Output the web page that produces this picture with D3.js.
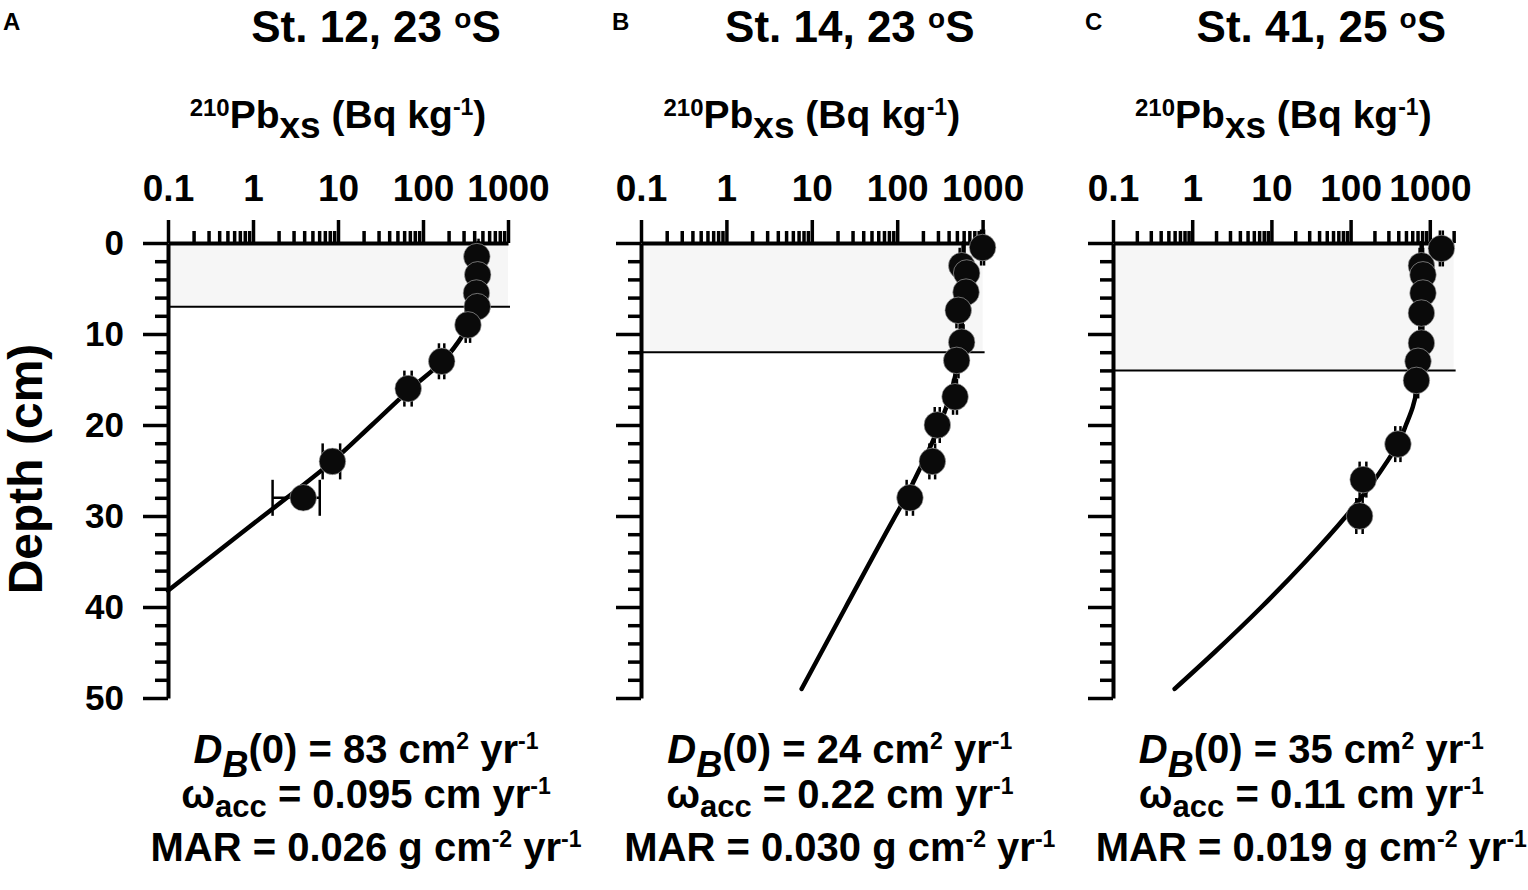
<!DOCTYPE html>
<html>
<head>
<meta charset="utf-8">
<script src="https://cdn.jsdelivr.net/npm/d3@7"></script>
<style>
  body { margin: 0; background: #fff; }
  svg { display: block; }
  text { font-family: "Liberation Sans", Arial, sans-serif; font-weight: bold; fill: #000; white-space: pre; }
</style>
</head>
<body>
<div id="chart"></div>
<script>
// Panel labels and text
var panelLetters = ["A", "B", "C"];
var stationNames = ["St. 12, 23 ", "St. 14, 23 ", "St. 41, 25 "];
var dbValues = ["83", "24", "35"];
var omegaValues = ["0.095", "0.22", "0.11"];
var marValues = ["0.026", "0.030", "0.019"];

// Axis ticks
var xTickValues = [0.1, 1, 10, 100, 1000];
var xTickLabels = ["0.1", "1", "10", "100", "1000"];
var xMaxValues = [1000, 1000, 2000];
var depthTickValues = [0, 10, 20, 30, 40, 50];
var depthTickLabels = ["0", "10", "20", "30", "40", "50"];

// Depth of the surface mixed layer (cm)
var mixedLayerDepth = [7, 12, 14];

// St. 12 measured 210Pbxs
var depthA = [1.5, 3.5, 5.5, 7, 9, 13, 16, 24, 28];
var pbA    = [430, 440, 425, 435, 338, 166, 67, 8.6, 3.9];
var errA   = [20, 20, 20, 20, 20, 12, 6.6, 2, 2.2];
// St. 12 model fit
var fitDepthA = [0, 3, 6, 8, 10, 13, 16, 20, 24, 28, 32, 38.2];
var fitPbA    = [450, 445, 430, 390, 300, 170, 72, 25, 8.6, 2.5, 0.7, 0.1];

// St. 14 measured 210Pbxs
var depthB = [0.5, 2.5, 3.3, 5.4, 7.4, 10.9, 12.9, 16.9, 20, 24, 28];
var pbB    = [1000, 569, 651, 640, 519, 569, 497, 476, 295, 258, 141];
var errB   = [40, 30, 30, 30, 25, 30, 25, 25, 20, 20, 12];
// St. 14 model fit
var fitDepthB = [0, 6, 10, 13, 16, 19, 22, 25, 28, 30.4, 40, 49];
var fitPbB    = [600, 585, 560, 515, 440, 345, 255, 180, 125, 90, 25, 7.6];

// St. 41 measured 210Pbxs
var depthC = [0.6, 2.5, 3.5, 5.5, 7.7, 11, 13, 15.1, 22.1, 26, 30];
var pbC    = [1400, 783, 820, 820, 783, 783, 710, 678, 396, 144, 130];
var errC   = [60, 40, 40, 40, 40, 40, 35, 35, 30, 14, 12];
// St. 41 model fit
var fitDepthC = [0, 5, 10, 14, 16, 18, 20, 22, 24, 26.6, 30, 35, 40, 45, 49];
var fitPbC    = [790, 785, 770, 735, 690, 610, 500, 400, 290, 180, 88, 27, 7.5, 1.9, 0.6];

var pointDepths = [depthA, depthB, depthC];
var pointValues = [pbA, pbB, pbC];
var pointErrors = [errA, errB, errC];
var fitDepths = [fitDepthA, fitDepthB, fitDepthC];
var fitValues = [fitPbA, fitPbB, fitPbC];

// Layout
var w = 1528, h = 890;
var panelLeft = [168, 641, 1113];
var decadePx = [85, 85.4, 79.2];
var letterX = [3, 612, 1085];
var yTop = 243, yBottom = 698;

var svg = d3.select("#chart")
  .append("svg")
  .attr("width", w)
  .attr("height", h);

// builds sub/superscripted text out of tspans
function richText(sel, parts) {
  var base = 0;
  parts.forEach(function(p) {
    var shift = p.shift || 0;
    var t = sel.append("tspan").text(p.t).attr("dy", shift - base);
    base = shift;
    if (p.size) t.style("font-size", p.size + "px");
    if (p.italic) t.style("font-style", "italic");
  });
}

var yScale = d3.scaleLinear()
  .domain([0, 50])
  .range([yTop, yBottom]);

panelLetters.forEach(function(letter, i) {
  var x0 = panelLeft[i];
  var x1 = x0 + decadePx[i] * Math.log10(xMaxValues[i] / 0.1);
  var xScale = d3.scaleLog()
    .domain([0.1, xMaxValues[i]])
    .range([x0, x1]);
  var cx = (x0 + x1) / 2;

  var g = svg.append("g");

  // Panel letter
  g.append("text")
    .attr("x", letterX[i])
    .attr("y", 30)
    .style("font-size", "24px")
    .text(letter);

  // Station title
  richText(g.append("text")
    .attr("x", cx + 38)
    .attr("y", 42)
    .attr("text-anchor", "middle")
    .style("font-size", "44px"),
    [{t: stationNames[i]}, {t: "o", size: 28, shift: -14}, {t: "S"}]);

  // x-axis title
  richText(g.append("text")
    .attr("x", cx)
    .attr("y", 128)
    .attr("text-anchor", "middle")
    .style("font-size", "39px"),
    [{t: "210", size: 24, shift: -12}, {t: "Pb"}, {t: "xs", size: 37, shift: 10},
     {t: " (Bq kg"}, {t: "-1", size: 23, shift: -13}, {t: ")"}]);

  // Mixed layer shading
  g.append("rect")
    .attr("x", x0)
    .attr("y", yScale(0))
    .attr("width", x1 - x0)
    .attr("height", yScale(mixedLayerDepth[i]) - yScale(0))
    .attr("fill", "#f6f6f6");

  g.append("line")
    .attr("x1", x0)
    .attr("x2", x1 + 2)
    .attr("y1", yScale(mixedLayerDepth[i]))
    .attr("y2", yScale(mixedLayerDepth[i]))
    .attr("stroke", "#000")
    .attr("stroke-width", 2);

  // Top axis: minor ticks, then decades with labels
  var minorX = xScale.ticks().filter(function(v) {
    return !xTickValues.some(function(m) { return Math.abs(m - v) / m < 1e-6; });
  });
  g.append("g")
    .attr("transform", "translate(0," + yTop + ")")
    .call(d3.axisTop(xScale).tickValues(minorX).tickSize(12).tickSizeOuter(0).tickFormat(function() { return ""; }))
    .call(function(a) { a.select(".domain").remove(); })
    .selectAll("line").attr("stroke-width", 3.5);

  var xAxis = g.append("g")
    .attr("transform", "translate(0," + yTop + ")")
    .call(d3.axisTop(xScale)
      .tickValues(xTickValues)
      .tickSize(23)
      .tickSizeOuter(0)
      .tickPadding(19)
      .tickFormat(function(d, k) { return xTickLabels[k]; }));
  xAxis.select(".domain").attr("stroke-width", 4);
  xAxis.selectAll("line").attr("stroke-width", 3.5);
  xAxis.selectAll("text").style("font-size", "37px");

  // Left axis: minor ticks every 2 cm
  var minorY = d3.range(0, 51, 2).filter(function(d) { return d % 10 !== 0; });
  g.append("g")
    .attr("transform", "translate(" + x0 + ",0)")
    .call(d3.axisLeft(yScale).tickValues(minorY).tickSize(13).tickSizeOuter(0).tickFormat(function() { return ""; }))
    .call(function(a) { a.select(".domain").remove(); })
    .selectAll("line").attr("stroke-width", 3.5);

  var yAxis = g.append("g")
    .attr("transform", "translate(" + x0 + ",0)")
    .call(d3.axisLeft(yScale)
      .tickValues(depthTickValues)
      .tickSize(25)
      .tickSizeOuter(0)
      .tickPadding(19)
      .tickFormat(function(d, k) { return i === 0 ? depthTickLabels[k] : ""; }));
  yAxis.select(".domain").attr("stroke-width", 4);
  yAxis.selectAll("line").attr("stroke-width", 3.5);
  yAxis.selectAll("text").style("font-size", "35px");

  // Model fit
  var fit = fitDepths[i].map(function(d, k) { return {d: d, v: fitValues[i][k]}; });
  var line = d3.line()
    .x(function(p) { return xScale(p.v); })
    .y(function(p) { return yScale(p.d); })
    .curve(d3.curveMonotoneY);
  g.append("path")
    .datum(fit)
    .attr("d", line)
    .attr("fill", "none")
    .attr("stroke", "#000")
    .attr("stroke-width", 4.5)
    .attr("stroke-linecap", "round");

  // Measurements with error bars
  var pts = pointDepths[i].map(function(d, k) {
    return {d: d, v: pointValues[i][k], e: pointErrors[i][k]};
  });
  var bars = g.selectAll(".err")
    .data(pts)
    .enter()
    .append("g")
    .attr("class", "err")
    .attr("stroke", "#000")
    .attr("stroke-width", 2.5);
  bars.append("line")
    .attr("x1", function(p) { return xScale(p.v - p.e); })
    .attr("x2", function(p) { return xScale(p.v + p.e); })
    .attr("y1", function(p) { return yScale(p.d); })
    .attr("y2", function(p) { return yScale(p.d); });
  [-1, 1].forEach(function(s) {
    bars.append("line")
      .attr("x1", function(p) { return xScale(p.v + s * p.e); })
      .attr("x2", function(p) { return xScale(p.v + s * p.e); })
      .attr("y1", function(p) { return yScale(p.d) - 18; })
      .attr("y2", function(p) { return yScale(p.d) + 18; });
  });

  g.selectAll("circle")
    .data(pts)
    .enter()
    .append("circle")
    .attr("cx", function(p) { return xScale(p.v); })
    .attr("cy", function(p) { return yScale(p.d); })
    .attr("r", 13.3)
    .attr("fill", "#0a0a0a")
    .attr("stroke", "#b5b5b5")
    .attr("stroke-width", 0.6);

  // Model parameters below the panel
  var tx = cx + 28;
  richText(g.append("text").attr("x", tx).attr("y", 763).attr("text-anchor", "middle").style("font-size", "40px"),
    [{t: "D", italic: true}, {t: "B", italic: true, size: 36, shift: 14},
     {t: "(0) = " + dbValues[i] + " cm"}, {t: "2", size: 23, shift: -14},
     {t: " yr"}, {t: "-1", size: 23, shift: -14}]);
  richText(g.append("text").attr("x", tx).attr("y", 808).attr("text-anchor", "middle").style("font-size", "40px"),
    [{t: "\u03c9"}, {t: "acc", size: 31, shift: 9},
     {t: " = " + omegaValues[i] + " cm yr"}, {t: "-1", size: 23, shift: -14}]);
  richText(g.append("text").attr("x", tx).attr("y", 861).attr("text-anchor", "middle").style("font-size", "40px"),
    [{t: "MAR = " + marValues[i] + " g cm"}, {t: "-2", size: 23, shift: -14},
     {t: " yr"}, {t: "-1", size: 23, shift: -14}]);
});

// y-axis title
svg.append("text")
  .attr("transform", "translate(42,469) rotate(-90)")
  .attr("text-anchor", "middle")
  .style("font-size", "48px")
  .text("Depth (cm)");
</script>
</body>
</html>
